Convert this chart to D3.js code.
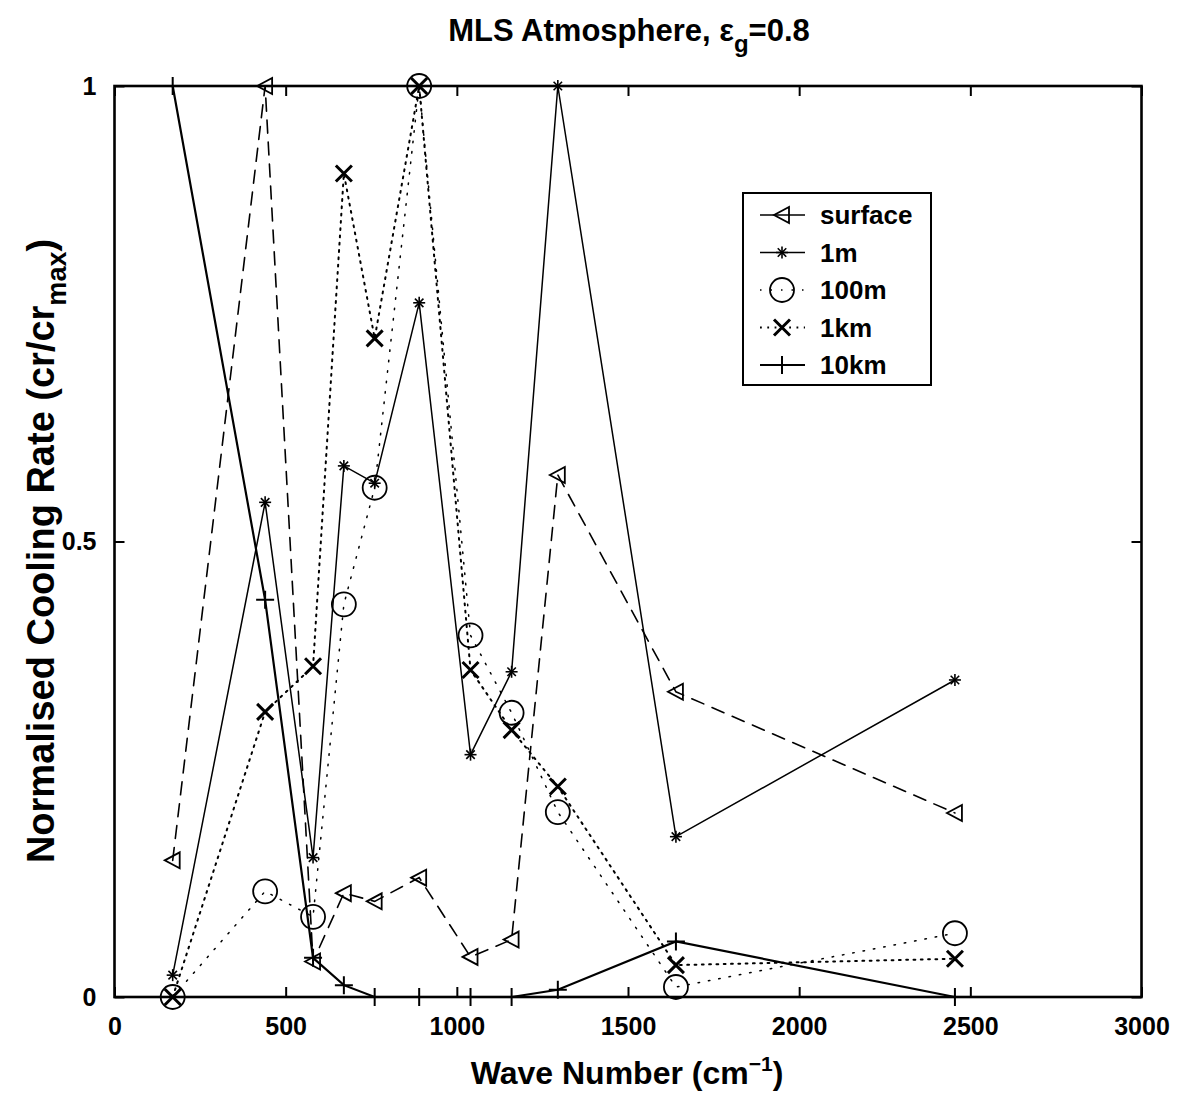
<!DOCTYPE html>
<html>
<head>
<meta charset="utf-8">
<script src="https://cdn.jsdelivr.net/npm/d3@7"></script>
<style>
  body { margin: 0; background: #fff; }
  text { font-family: "Liberation Sans", Arial, sans-serif; font-weight: bold; fill: #000; }
</style>
</head>
<body>
<div id="chart"></div>
<script>
// DATA

const waveNumbers = [170, 440, 580, 670, 760, 890, 1040, 1160, 1295, 1640, 2455];

const surface = [0.150, 1.000, 0.039, 0.114, 0.105, 0.131, 0.044, 0.063, 0.573, 0.335, 0.202];
const oneM    = [0.024, 0.543, 0.153, 0.583, 0.564, 0.762, 0.266, 0.357, 1.000, 0.176, 0.348];
const hundredM= [0.000, 0.116, 0.088, 0.431, 0.559, 1.000, 0.397, 0.312, 0.203, 0.011, 0.070];
const oneKm   = [0.000, 0.313, 0.363, 0.904, 0.723, 1.000, 0.359, 0.293, 0.231, 0.035, 0.042];
const tenKm   = [1.000, 0.436, 0.043, 0.013, 0.000, 0.000, 0.000, 0.000, 0.008, 0.061, 0.000];

const xTicks = [0, 500, 1000, 1500, 2000, 2500, 3000];
const yTicks = [0, 0.5, 1];
const yTickLabels = ["0", "0.5", "1"];

// SETUP

const W = 1178, H = 1095;
const plot = { left: 114.5, top: 86, right: 1141.5, bottom: 997 };

const x = d3.scaleLinear().domain([0, 3000]).range([plot.left, plot.right]);
const y = d3.scaleLinear().domain([0, 1]).range([plot.bottom, plot.top]);

const series = [
    { name: "surface", values: surface,  dash: "13,9",  width: 1.6, marker: "tri" },
    { name: "1m",      values: oneM,     dash: null,    width: 1.5, marker: "star" },
    { name: "100m",    values: hundredM, dash: "1.5,9", width: 1.5, marker: "circle" },
    { name: "1km",     values: oneKm,    dash: "1.8,5.5", width: 2, marker: "x" },
    { name: "10km",    values: tenKm,    dash: null,    width: 2.2, marker: "plus" },
];

var svg = d3.select("#chart")
    .append("svg")
    .attr("width", W)
    .attr("height", H);

svg.append("rect").attr("width", W).attr("height", H).attr("fill", "#fff");

// MARKERS

function drawMarker(g, type, cx, cy) {
    var m = g.append("g").attr("transform", "translate(" + cx + "," + cy + ")")
        .attr("fill", "none").attr("stroke", "#000");
    if (type == "tri") {
        m.append("path").attr("d", "M-8,0L7,-8L7,8Z").attr("stroke-width", 1.8);
    } else if (type == "star") {
        var r = 6;
        for (var a = 0; a < 180; a += 45) {
            var t = a * Math.PI / 180;
            m.append("line")
                .attr("x1", -r * Math.cos(t)).attr("y1", -r * Math.sin(t))
                .attr("x2", r * Math.cos(t)).attr("y2", r * Math.sin(t))
                .attr("stroke-width", 1.6);
        }
    } else if (type == "circle") {
        m.append("circle").attr("r", 12).attr("stroke-width", 1.8);
    } else if (type == "x") {
        m.append("path").attr("d", "M-8,-8L8,8M-8,8L8,-8").attr("stroke-width", 3);
    } else if (type == "plus") {
        m.append("path").attr("d", "M-9,0L9,0M0,-9L0,9").attr("stroke-width", 2);
    }
}

// SERIES

var line = d3.line()
    .x((d, i) => x(waveNumbers[i]))
    .y(d => y(d));

series.forEach(function (s) {
    svg.append("path")
        .attr("d", line(s.values))
        .attr("fill", "none")
        .attr("stroke", "#000")
        .attr("stroke-width", s.width)
        .attr("stroke-dasharray", s.dash)
        .attr("stroke-linecap", s.dash ? "round" : "butt");
    var mg = svg.append("g");
    s.values.forEach(function (v, i) {
        drawMarker(mg, s.marker, x(waveNumbers[i]), y(v));
    });
});

// AXES (inward ticks on all four sides)

var axB = svg.append("g").attr("transform", "translate(0," + plot.bottom + ")")
    .call(d3.axisBottom(x).tickValues(xTicks).tickSize(-10).tickPadding(20).tickFormat(d3.format("d")));
var axT = svg.append("g").attr("transform", "translate(0," + plot.top + ")")
    .call(d3.axisTop(x).tickValues(xTicks).tickSize(-10).tickFormat(""));
var axL = svg.append("g").attr("transform", "translate(" + plot.left + ",0)")
    .call(d3.axisLeft(y).tickValues(yTicks).tickSize(-10).tickPadding(18)
        .tickFormat((d, i) => yTickLabels[i]));
var axR = svg.append("g").attr("transform", "translate(" + plot.right + ",0)")
    .call(d3.axisRight(y).tickValues(yTicks).tickSize(-10).tickFormat(""));

[axB, axT, axL, axR].forEach(function (a) {
    a.select(".domain").remove();
    a.selectAll(".tick line").attr("stroke", "#000").attr("stroke-width", 2);
    a.selectAll(".tick text")
        .style("font-family", '"Liberation Sans", Arial, sans-serif')
        .style("font-weight", "bold")
        .style("font-size", "25px");
});

svg.append("rect")
    .attr("x", plot.left).attr("y", plot.top)
    .attr("width", plot.right - plot.left).attr("height", plot.bottom - plot.top)
    .attr("fill", "none").attr("stroke", "#000").attr("stroke-width", 2.6);

// TITLE AND LABELS

var title = svg.append("text")
    .attr("x", 629).attr("y", 41)
    .attr("text-anchor", "middle")
    .style("font-size", "31px");
title.append("tspan").text("MLS Atmosphere, ε");
title.append("tspan").attr("dy", 11).style("font-size", "24px").text("g");
title.append("tspan").attr("dy", -11).text("=0.8");

var xl = svg.append("text")
    .attr("x", 627).attr("y", 1084)
    .attr("text-anchor", "middle")
    .style("font-size", "32px");
xl.append("tspan").text("Wave Number (cm");
xl.append("tspan").attr("dy", -13).style("font-size", "21px").text("−1");
xl.append("tspan").attr("dy", 13).text(")");

var yl = svg.append("text")
    .attr("transform", "translate(54,551) rotate(-90)")
    .attr("text-anchor", "middle")
    .style("font-size", "38px");
yl.append("tspan").text("Normalised Cooling Rate (cr/cr");
yl.append("tspan").attr("dy", 12).style("font-size", "27px").text("max");
yl.append("tspan").attr("dy", -12).text(")");

// LEGEND

var legend = svg.append("g");
legend.append("rect")
    .attr("x", 743).attr("y", 193).attr("width", 188).attr("height", 192)
    .attr("fill", "#fff").attr("stroke", "#000").attr("stroke-width", 2);

series.forEach(function (s, i) {
    var ly = 215 + i * 37.5;
    legend.append("line")
        .attr("x1", 760).attr("x2", 805).attr("y1", ly).attr("y2", ly)
        .attr("stroke", "#000").attr("stroke-width", s.width)
        .attr("stroke-dasharray", s.dash ? (s.marker == "tri" ? null : s.dash) : null);
    drawMarker(legend, s.marker, 782, ly);
    legend.append("text")
        .attr("x", 820).attr("y", ly + 9)
        .style("font-size", "26px")
        .text(s.name);
});
</script>
</body>
</html>
